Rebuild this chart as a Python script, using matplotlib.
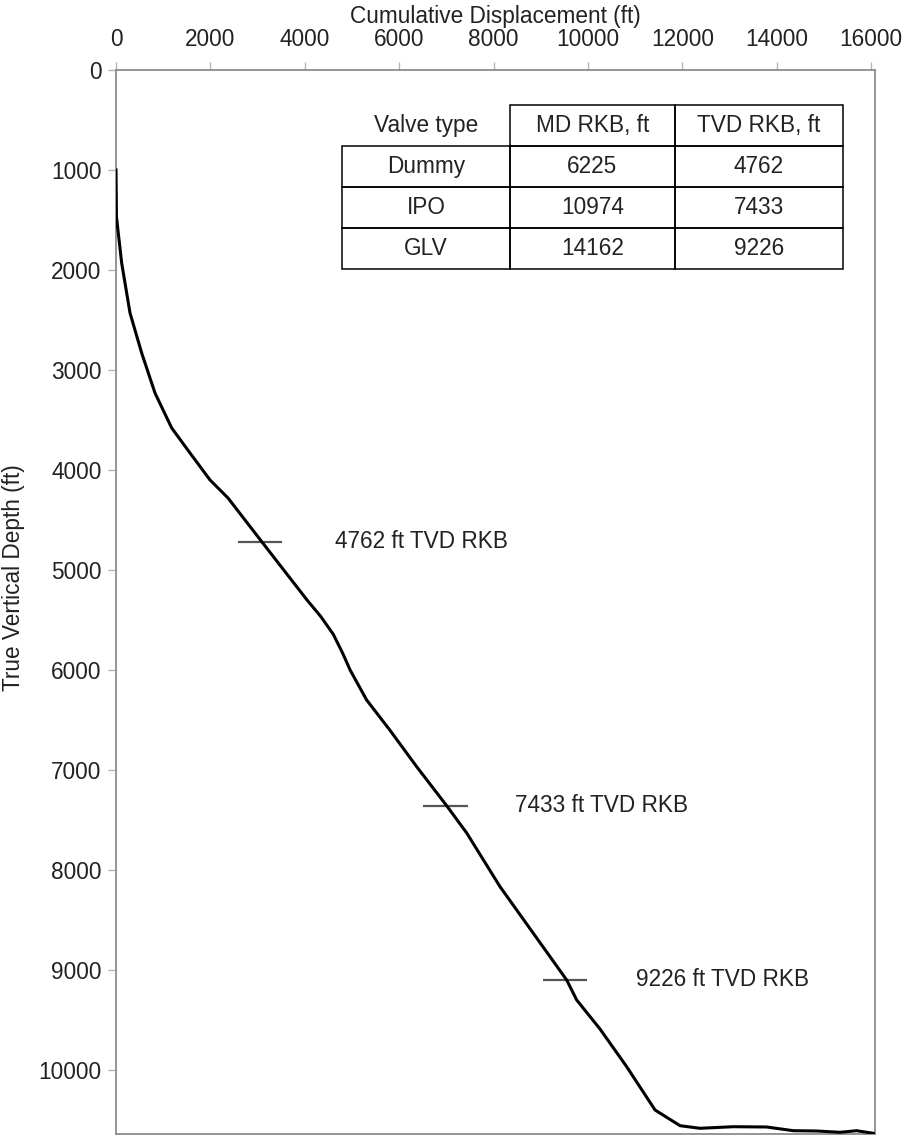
import matplotlib
matplotlib.use("Agg")
import matplotlib.pyplot as plt

plt.rcParams['font.family'] = ['Liberation Sans', 'DejaVu Sans']

# Well trajectory
displacement_ft = [0, 10, 120, 297, 544, 826, 1180, 1568, 1992, 2373, 3093,
                   4047, 4330, 4600, 4800, 4960, 5310, 5800, 6370, 7005, 7430, 8136,
                   9548, 9760, 10254, 10819, 11420, 11950, 12373, 13080,
                   13785, 14350, 14845, 15340, 15690, 16045]
tvd_ft = [1000, 1470, 1930, 2430, 2830, 3230, 3580, 3830, 4100, 4280, 4720,
          5300, 5460, 5640, 5830, 6000, 6300, 6600, 6967, 7357, 7630, 8167,
          9100, 9300, 9590, 9967, 10400, 10557, 10583, 10567,
          10570, 10607, 10610, 10623, 10607, 10633]

# Valve markers (positions as drawn) and labels
marker_disp = [3050, 6980, 9513]
marker_tvd = [4720, 7357, 9100]
label_x = [4640, 8453, 11017]
marker_labels = ["4762 ft TVD RKB", "7433 ft TVD RKB", "9226 ft TVD RKB"]

# Table
table_header = ["Valve type", "MD RKB, ft", "TVD RKB, ft"]
valve_types = ["Dummy", "IPO", "GLV"]
md_rkb = [6225, 10974, 14162]
tvd_rkb = [4762, 7433, 9226]

x_ticks = [0, 2000, 4000, 6000, 8000, 10000, 12000, 14000, 16000]
y_ticks = [0, 1000, 2000, 3000, 4000, 5000, 6000, 7000, 8000, 9000, 10000]

W, H = 903, 1135
fig = plt.figure(figsize=(W / 100, H / 100), dpi=100)
L, R, T, B = 116, 875, 70, 1134
ax = fig.add_axes([L / W, 1 - B / H, (R - L) / W, (B - T) / H])

FS = 16.3
TXT = '#222222'

ax.plot(displacement_ft, tvd_ft, color='black', lw=2.2, solid_joinstyle='round', zorder=3)
half = 470
ax.hlines(marker_tvd, [d - half for d in marker_disp], [d + half for d in marker_disp],
          color='#555555', lw=1.6, zorder=2)
for x, y, s in zip(label_x, marker_tvd, marker_labels):
    ax.text(x, y, s, fontsize=FS, color=TXT, ha='left', va='center')

ax.set_xlim(0, 16080)
ax.set_ylim(10640, 0)
ax.set_xticks(x_ticks)
ax.set_yticks(y_ticks)
ax.xaxis.tick_top()
ax.xaxis.set_label_position('top')
ax.tick_params(axis='x', direction='out', length=6, width=1, color='#b5b5b5',
               pad=8, labelsize=FS, labelcolor=TXT)
ax.tick_params(axis='y', direction='out', length=6, width=1, color='#b5b5b5',
               pad=4.5, labelsize=FS, labelcolor=TXT)

for sp in ax.spines.values():
    sp.set_color('#8c8c8c')
    sp.set_linewidth(1.3)

ax.set_xlabel("Cumulative Displacement (ft)", fontsize=FS, color=TXT)
ax.xaxis.label.set_va('center')
ax.xaxis.set_label_coords(0.5, (B - 16) / (B - T))
ax.set_ylabel("True Vertical Depth (ft)", fontsize=FS, color=TXT)
ax.yaxis.label.set_va('center')
ax.yaxis.set_label_coords((14 - L) / (R - L), (B - 578) / (B - T))

# table
cell_text = [table_header] + [[v, str(m), str(t)] for v, m, t in zip(valve_types, md_rkb, tvd_rkb)]
tl, tr, tt, tb = 342, 843, 105, 269
bbox = [(tl - L) / (R - L), (B - tb) / (B - T), (tr - tl) / (R - L), (tb - tt) / (B - T)]
tab = ax.table(cellText=cell_text, cellLoc='center', bbox=bbox,
               colWidths=[168, 165, 168])
tab.auto_set_font_size(False)
tab.set_fontsize(FS)
for (r, c), cell in tab.get_celld().items():
    cell.set_edgecolor('black')
    cell.set_linewidth(1.1)
    cell.set_facecolor('none')
    cell.get_text().set_color(TXT)
tab[0, 0].visible_edges = ''

fig.savefig('out.png', dpi=100)
